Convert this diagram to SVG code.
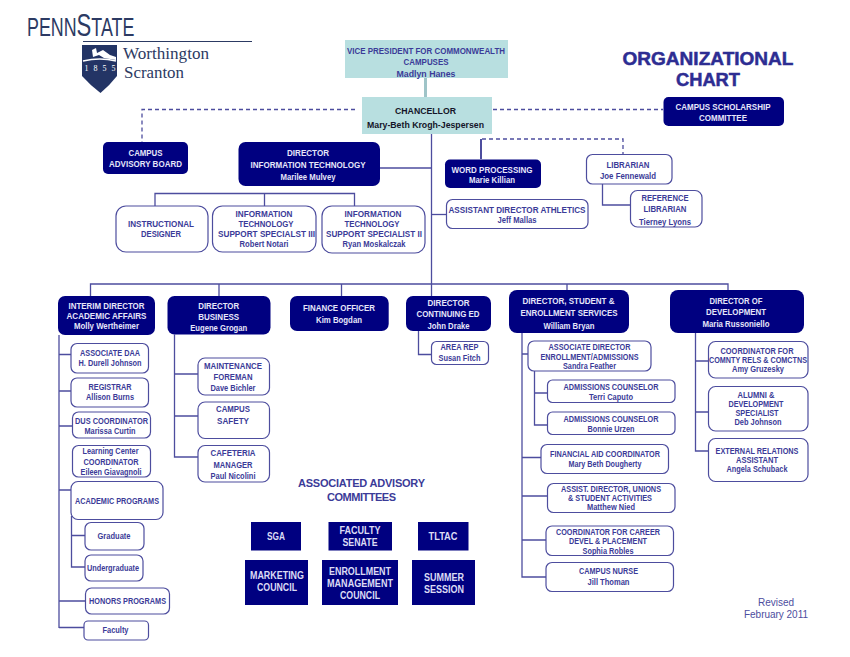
<svg xmlns="http://www.w3.org/2000/svg" width="850" height="657" viewBox="0 0 850 657">
<style>
text{font-family:"Liberation Sans",Arial,sans-serif;text-anchor:middle;font-weight:700;font-size:9.5px;fill:#3b3b98}
.n text{fill:#e6e6fa}
.n rect,.s rect{fill:#000080;stroke:none}
.w rect{fill:#fff;stroke:#4d4d9e;stroke-width:1.2}
.t rect{fill:#b8dfe0;stroke:none}
.t text{fill:#3b3b98}
.k text{fill:#141428}
.s text{fill:#dcdcf5;font-size:10px}
.m text{font-size:8.7px}
.c text{font-size:8.2px}
.l line,.l path{fill:none;stroke:#4d4d9e;stroke-width:1.3}
.l .d{stroke-dasharray:4 3}
.title{font-size:19px;font-weight:700;fill:#2d2d92;stroke:#2d2d92;stroke-width:.5}
.logo{font-family:"Liberation Serif",serif;font-weight:400;fill:#2c3a63;text-anchor:start}
.rev{font-weight:400;fill:#4d4d9e;font-size:10px}
</style>
<g id="logo">
<text class="logo" transform="translate(27 36) scale(.714 1)" style="font-family:'Liberation Sans',sans-serif;font-size:25px">PENN<tspan style="font-size:31px">S</tspan>TATE</text>
<line x1="83" y1="41.5" x2="252" y2="41.5" stroke="#2c3a63" stroke-width="1"/>
<path d="M82 45H117V76Q110 85 100.5 93Q90 85 82 76Z" fill="#233465"/>
<path d="M92 50L96 48L97 53L103 50L110 55L116 57V60L104 58L99 55L93 57Z" fill="#fff"/>
<path d="M83 61Q100 57 116 61" fill="none" stroke="#fff" stroke-width="1.5"/>
<text x="100" y="71" style="font-family:'Liberation Serif',serif;font-size:8px;font-weight:400;fill:#fff" textLength="31">1 8 5 5</text>
<text class="logo" x="123" y="59" style="font-size:16px" textLength="86" lengthAdjust="spacingAndGlyphs">Worthington</text>
<text class="logo" x="124" y="77.5" style="font-size:16px" textLength="60" lengthAdjust="spacingAndGlyphs">Scranton</text>
</g>
<g id="connectors" class="l">
<rect x="424" y="78" width="3" height="19" fill="#9fc4c8"/>
<path class="d" d="M355 109.5H142V142"/>
<path class="d" d="M493 109.5H663"/>
<path class="d" d="M482 139H623V154"/>
<path d="M481 139V159" style="stroke-width:2"/>
<path d="M431.5 130V284"/>
<path d="M380 168H432"/>
<path d="M155 206V193.5H354.5V206M264.5 193.5V206"/>
<path d="M432 214.5H446"/>
<path d="M602.5 184V205H630"/>
<path d="M90.5 296V284H728V290M219 284V296M341.5 284V296M431.5 284V296M567 284V290"/>
<path d="M59 335V628M59 354.5H71M59 391H71M59 426H72.5M59 490H71M59 601H85.5M59 627.5H84"/>
<path d="M71.5 516V567H85M71.5 535.5H85"/>
<path d="M174.5 334.5V457H198M174.5 374H198M174.5 416H198"/>
<path d="M418.5 331V354.5H431.5"/>
<path d="M522 333V577H546M522 354H528M522 457.5H541M522 496H547.5M522 540H546"/>
<path d="M534.5 371V425H547.5M534.5 393H547.5"/>
<path d="M695.5 333V451H708.5M695.5 361H708.5M695.5 412H708.5"/>
</g>
<g id="vp" class="t"><rect x="345" y="40" width="163" height="38"/>
<text x="426" y="54" textLength="158" lengthAdjust="spacingAndGlyphs">VICE PRESIDENT FOR COMMONWEALTH</text><text x="426" y="65" textLength="45" lengthAdjust="spacingAndGlyphs">CAMPUSES</text><text x="426" y="77" textLength="59" lengthAdjust="spacingAndGlyphs">Madlyn Hanes</text></g>
<g id="chancellor" class="t k"><rect x="362" y="97" width="130" height="37"/>
<text x="425.5" y="114" textLength="61" lengthAdjust="spacingAndGlyphs">CHANCELLOR</text><text x="425.5" y="127.5" textLength="117" lengthAdjust="spacingAndGlyphs">Mary-Beth Krogh-Jespersen</text></g>
<g id="title"><text class="title" x="708" y="65" textLength="171" lengthAdjust="spacingAndGlyphs">ORGANIZATIONAL</text><text class="title" x="708" y="86" textLength="64" lengthAdjust="spacingAndGlyphs">CHART</text></g>
<g id="scholarship" class="n"><rect x="663.5" y="97" width="120.5" height="29" rx="5"/>
<text x="723" y="109.5" textLength="95" lengthAdjust="spacingAndGlyphs">CAMPUS SCHOLARSHIP</text><text x="723" y="121" textLength="48" lengthAdjust="spacingAndGlyphs">COMMITTEE</text></g>
<g id="advisory-board" class="n"><rect x="103" y="142" width="85" height="32" rx="5"/>
<text x="145.5" y="156" textLength="34" lengthAdjust="spacingAndGlyphs">CAMPUS</text><text x="145.5" y="167" textLength="73" lengthAdjust="spacingAndGlyphs">ADVISORY BOARD</text></g>
<g id="dir-it" class="n"><rect x="238.5" y="142" width="141.5" height="44" rx="7"/>
<text x="308" y="156" textLength="42" lengthAdjust="spacingAndGlyphs">DIRECTOR</text><text x="308" y="167.5" textLength="115" lengthAdjust="spacingAndGlyphs">INFORMATION TECHNOLOGY</text><text x="308" y="180" textLength="55" lengthAdjust="spacingAndGlyphs">Marilee Mulvey</text></g>
<g id="instructional" class="w m"><rect x="116" y="206" width="92" height="46" rx="10"/>
<text x="161" y="227" textLength="66" lengthAdjust="spacingAndGlyphs">INSTRUCTIONAL</text><text x="161" y="237" textLength="40" lengthAdjust="spacingAndGlyphs">DESIGNER</text></g>
<g id="it3" class="w m"><rect x="212.5" y="206" width="103.5" height="46" rx="10"/>
<text x="264" y="217" textLength="57" lengthAdjust="spacingAndGlyphs">INFORMATION</text><text x="266" y="227" textLength="55" lengthAdjust="spacingAndGlyphs">TECHNOLOGY</text><text x="266.5" y="237" textLength="97" lengthAdjust="spacingAndGlyphs">SUPPORT SPECIALST III</text><text x="264" y="247" textLength="49" lengthAdjust="spacingAndGlyphs">Robert Notari</text></g>
<g id="it2" class="w m"><rect x="322" y="206" width="103" height="47" rx="10"/>
<text x="373" y="217" textLength="57" lengthAdjust="spacingAndGlyphs">INFORMATION</text><text x="372" y="227" textLength="55" lengthAdjust="spacingAndGlyphs">TECHNOLOGY</text><text x="374" y="237" textLength="96" lengthAdjust="spacingAndGlyphs">SUPPORT SPECIALIST II</text><text x="374" y="247" textLength="63" lengthAdjust="spacingAndGlyphs">Ryan Moskalczak</text></g>
<g id="word" class="n m"><rect x="445" y="159.5" width="96" height="28.5" rx="5"/>
<text x="492" y="172.5" textLength="81" lengthAdjust="spacingAndGlyphs">WORD PROCESSING</text><text x="492" y="183" textLength="46" lengthAdjust="spacingAndGlyphs">Marie Killian</text></g>
<g id="librarian" class="w"><rect x="586.5" y="154.5" width="85.5" height="29.5" rx="6"/>
<text x="628" y="168" textLength="43" lengthAdjust="spacingAndGlyphs">LIBRARIAN</text><text x="628" y="179" textLength="56" lengthAdjust="spacingAndGlyphs">Joe Fennewald</text></g>
<g id="ref-librarian" class="w"><rect x="630.5" y="190.5" width="71.5" height="36.5" rx="7"/>
<text x="665" y="201" textLength="47" lengthAdjust="spacingAndGlyphs">REFERENCE</text><text x="665" y="212" textLength="43" lengthAdjust="spacingAndGlyphs">LIBRARIAN</text><text x="665" y="224.5" textLength="52" lengthAdjust="spacingAndGlyphs">Tierney Lyons</text></g>
<g id="athletics" class="w m"><rect x="446.5" y="199.5" width="141.5" height="29" rx="6"/>
<text x="517" y="212.5" textLength="137" lengthAdjust="spacingAndGlyphs">ASSISTANT DIRECTOR ATHLETICS</text><text x="517" y="222.5" textLength="39" lengthAdjust="spacingAndGlyphs">Jeff Mallas</text></g>
<g id="academic" class="n m"><rect x="58" y="296" width="97" height="39" rx="7"/>
<text x="106.5" y="309" textLength="76" lengthAdjust="spacingAndGlyphs">INTERIM DIRECTOR</text><text x="106.5" y="319" textLength="80" lengthAdjust="spacingAndGlyphs">ACADEMIC  AFFAIRS</text><text x="106.5" y="329" textLength="65" lengthAdjust="spacingAndGlyphs">Molly Wertheimer</text></g>
<g id="business" class="n"><rect x="167.5" y="296" width="103" height="38.5" rx="7"/>
<text x="218.7" y="308.5" textLength="41" lengthAdjust="spacingAndGlyphs">DIRECTOR</text><text x="218.7" y="320" textLength="41" lengthAdjust="spacingAndGlyphs">BUSINESS</text><text x="218.7" y="331" textLength="57" lengthAdjust="spacingAndGlyphs">Eugene Grogan</text></g>
<g id="finance" class="n"><rect x="290" y="296" width="98.7" height="35" rx="7"/>
<text x="339" y="311" textLength="72" lengthAdjust="spacingAndGlyphs">FINANCE OFFICER</text><text x="339" y="323" textLength="46" lengthAdjust="spacingAndGlyphs">Kim Bogdan</text></g>
<g id="continuing" class="n"><rect x="406" y="296" width="85" height="35" rx="7"/>
<text x="448.5" y="306" textLength="42" lengthAdjust="spacingAndGlyphs">DIRECTOR</text><text x="448" y="317" textLength="63" lengthAdjust="spacingAndGlyphs">CONTINUING ED</text><text x="448.5" y="329" textLength="42" lengthAdjust="spacingAndGlyphs">John Drake</text></g>
<g id="student" class="n"><rect x="509" y="290" width="120" height="43" rx="8"/>
<text x="568.5" y="304" textLength="92" lengthAdjust="spacingAndGlyphs">DIRECTOR, STUDENT &amp;</text><text x="569" y="316" textLength="97" lengthAdjust="spacingAndGlyphs">ENROLLMENT SERVICES</text><text x="569" y="329" textLength="51" lengthAdjust="spacingAndGlyphs">William Bryan</text></g>
<g id="development" class="n"><rect x="670" y="290" width="134" height="43" rx="8"/>
<text x="736" y="304" textLength="53" lengthAdjust="spacingAndGlyphs">DIRECTOR OF</text><text x="736" y="315" textLength="60" lengthAdjust="spacingAndGlyphs">DEVELOPMENT</text><text x="736" y="327" textLength="67" lengthAdjust="spacingAndGlyphs">Maria Russoniello</text></g>
<g id="assoc-daa" class="w m"><rect x="71" y="343.5" width="77.5" height="29.5" rx="6"/>
<text x="110" y="356" textLength="60" lengthAdjust="spacingAndGlyphs">ASSOCIATE DAA</text><text x="110" y="366" textLength="63" lengthAdjust="spacingAndGlyphs">H. Durell Johnson</text></g>
<g id="registrar" class="w m"><rect x="71" y="378" width="77.5" height="29" rx="6"/>
<text x="110" y="390" textLength="43" lengthAdjust="spacingAndGlyphs">REGISTRAR</text><text x="110" y="400" textLength="48" lengthAdjust="spacingAndGlyphs">Allison Burns</text></g>
<g id="dus" class="w m"><rect x="72.5" y="412" width="78" height="26" rx="6"/>
<text x="111.5" y="423.5" textLength="73" lengthAdjust="spacingAndGlyphs">DUS COORDINATOR</text><text x="110" y="433.5" textLength="51" lengthAdjust="spacingAndGlyphs">Marissa Curtin</text></g>
<g id="learning" class="w m"><rect x="72.5" y="445.5" width="78" height="31.5" rx="6"/>
<text x="110.5" y="454" textLength="56" lengthAdjust="spacingAndGlyphs">Learning Center</text><text x="111" y="464.5" textLength="55" lengthAdjust="spacingAndGlyphs">COORDINATOR</text><text x="111" y="475" textLength="61" lengthAdjust="spacingAndGlyphs">Eileen Giavagnoli</text></g>
<g id="programs" class="w"><rect x="71" y="481.5" width="92" height="38" rx="7"/>
<text x="117" y="503.5" textLength="84" lengthAdjust="spacingAndGlyphs">ACADEMIC PROGRAMS</text></g>
<g id="graduate" class="w"><rect x="85" y="522.5" width="59" height="27.5" rx="6"/>
<text x="114" y="539" textLength="33" lengthAdjust="spacingAndGlyphs">Graduate</text></g>
<g id="undergraduate" class="w"><rect x="85" y="555" width="58" height="26" rx="6"/>
<text x="113" y="571" textLength="52" lengthAdjust="spacingAndGlyphs">Undergraduate</text></g>
<g id="honors" class="w"><rect x="85.5" y="588" width="84" height="26" rx="6"/>
<text x="127.5" y="603.5" textLength="77" lengthAdjust="spacingAndGlyphs">HONORS PROGRAMS</text></g>
<g id="faculty" class="w"><rect x="84" y="621" width="64.5" height="19" rx="4"/>
<text x="115.5" y="633" textLength="26" lengthAdjust="spacingAndGlyphs">Faculty</text></g>
<g id="maintenance" class="w"><rect x="198" y="358" width="71.5" height="37" rx="7"/>
<text x="233" y="369" textLength="58" lengthAdjust="spacingAndGlyphs">MAINTENANCE</text><text x="233" y="380" textLength="39" lengthAdjust="spacingAndGlyphs">FOREMAN</text><text x="233" y="391" textLength="45" lengthAdjust="spacingAndGlyphs">Dave Bichler</text></g>
<g id="safety" class="w"><rect x="198" y="402" width="71.5" height="36.5" rx="7"/>
<text x="233" y="412" textLength="34" lengthAdjust="spacingAndGlyphs">CAMPUS</text><text x="233" y="424" textLength="32" lengthAdjust="spacingAndGlyphs">SAFETY</text></g>
<g id="cafeteria" class="w"><rect x="198" y="445.5" width="71.5" height="36.5" rx="7"/>
<text x="233" y="456" textLength="45" lengthAdjust="spacingAndGlyphs">CAFETERIA</text><text x="233" y="468" textLength="39" lengthAdjust="spacingAndGlyphs">MANAGER</text><text x="233" y="479" textLength="45" lengthAdjust="spacingAndGlyphs">Paul Nicolini</text></g>
<g id="area-rep" class="w"><rect x="431.5" y="341.5" width="57" height="23" rx="5"/>
<text x="459.5" y="350" textLength="38" lengthAdjust="spacingAndGlyphs">AREA REP</text><text x="459.5" y="361" textLength="42" lengthAdjust="spacingAndGlyphs">Susan Fitch</text></g>
<g id="assoc-dir" class="w c"><rect x="528" y="341" width="123" height="30" rx="6"/>
<text x="589.5" y="350" textLength="82" lengthAdjust="spacingAndGlyphs">ASSOCIATE DIRECTOR</text><text x="589.5" y="359.5" textLength="98" lengthAdjust="spacingAndGlyphs">ENROLLMENT/ADMISSIONS</text><text x="589.5" y="369" textLength="53" lengthAdjust="spacingAndGlyphs">Sandra Feather</text></g>
<g id="adm1" class="w c"><rect x="547.5" y="380" width="127.5" height="22.5" rx="5"/>
<text x="611" y="390" textLength="95" lengthAdjust="spacingAndGlyphs">ADMISSIONS COUNSELOR</text><text x="611" y="399.5" textLength="44" lengthAdjust="spacingAndGlyphs">Terri Caputo</text></g>
<g id="adm2" class="w c"><rect x="547.5" y="412" width="127.5" height="22.5" rx="5"/>
<text x="611" y="422" textLength="95" lengthAdjust="spacingAndGlyphs">ADMISSIONS COUNSELOR</text><text x="611" y="431.5" textLength="47" lengthAdjust="spacingAndGlyphs">Bonnie Urzen</text></g>
<g id="finaid" class="w m"><rect x="541" y="444.5" width="127.5" height="29" rx="6"/>
<text x="605" y="457" textLength="110" lengthAdjust="spacingAndGlyphs">FINANCIAL AID COORDINATOR</text><text x="605" y="467" textLength="73" lengthAdjust="spacingAndGlyphs">Mary Beth Dougherty</text></g>
<g id="assist" class="w c"><rect x="547.5" y="483.5" width="127.5" height="29" rx="6"/>
<text x="611" y="492" textLength="100" lengthAdjust="spacingAndGlyphs">ASSIST. DIRECTOR, UNIONS</text><text x="610" y="501" textLength="84" lengthAdjust="spacingAndGlyphs">&amp; STUDENT ACTIVITIES</text><text x="611" y="510" textLength="48" lengthAdjust="spacingAndGlyphs">Matthew Nied</text></g>
<g id="career" class="w c"><rect x="546" y="526" width="127.5" height="29.5" rx="6"/>
<text x="608" y="534.5" textLength="104" lengthAdjust="spacingAndGlyphs">COORDINATOR FOR CAREER</text><text x="608" y="544" textLength="78" lengthAdjust="spacingAndGlyphs">DEVEL &amp; PLACEMENT</text><text x="608" y="553.5" textLength="51" lengthAdjust="spacingAndGlyphs">Sophia Robles</text></g>
<g id="nurse" class="w"><rect x="546" y="562.5" width="127.5" height="29" rx="6"/>
<text x="608.5" y="574" textLength="59" lengthAdjust="spacingAndGlyphs">CAMPUS NURSE</text><text x="608.5" y="585" textLength="42" lengthAdjust="spacingAndGlyphs">Jill Thoman</text></g>
<g id="comnty" class="w c"><rect x="708.5" y="341.5" width="99.5" height="36.5" rx="7"/>
<text x="757" y="354" textLength="73" lengthAdjust="spacingAndGlyphs">COORDINATOR FOR</text><text x="758" y="363" textLength="98" lengthAdjust="spacingAndGlyphs">COMNTY RELS &amp; COMCTNS</text><text x="758" y="372" textLength="52" lengthAdjust="spacingAndGlyphs">Amy Gruzesky</text></g>
<g id="alumni" class="w c"><rect x="708.5" y="386.5" width="99.5" height="44.5" rx="7"/>
<text x="756" y="398" textLength="37" lengthAdjust="spacingAndGlyphs">ALUMNI &amp;</text><text x="756" y="407" textLength="55" lengthAdjust="spacingAndGlyphs">DEVELOPMENT</text><text x="757" y="416" textLength="43" lengthAdjust="spacingAndGlyphs">SPECIALIST</text><text x="758" y="425" textLength="47" lengthAdjust="spacingAndGlyphs">Deb Johnson</text></g>
<g id="external" class="w c"><rect x="708.5" y="438.5" width="99.5" height="43" rx="7"/>
<text x="757" y="453.5" textLength="83" lengthAdjust="spacingAndGlyphs">EXTERNAL RELATIONS</text><text x="757" y="462.5" textLength="42" lengthAdjust="spacingAndGlyphs">ASSISTANT</text><text x="757" y="471.5" textLength="61" lengthAdjust="spacingAndGlyphs">Angela Schuback</text></g>
<g id="advisory-heading"><text x="361.5" y="487" style="font-size:11px" textLength="127">ASSOCIATED  ADVISORY</text><text x="361.5" y="501" style="font-size:11px" textLength="69">COMMITTEES</text></g>
<g id="sga" class="s"><rect x="251" y="522" width="50" height="28.5"/><text x="276" y="540" textLength="18" lengthAdjust="spacingAndGlyphs">SGA</text></g>
<g id="senate" class="s"><rect x="328.5" y="522" width="63.5" height="28.5"/><text x="360" y="534" textLength="41" lengthAdjust="spacingAndGlyphs">FACULTY</text><text x="360" y="546" textLength="35" lengthAdjust="spacingAndGlyphs">SENATE</text></g>
<g id="tltac" class="s"><rect x="418" y="522" width="50.5" height="28.5"/><text x="443" y="540" textLength="29" lengthAdjust="spacingAndGlyphs">TLTAC</text></g>
<g id="marketing" class="s"><rect x="245" y="560" width="63" height="45"/><text x="277" y="579" textLength="54" lengthAdjust="spacingAndGlyphs">MARKETING</text><text x="277" y="591" textLength="40" lengthAdjust="spacingAndGlyphs">COUNCIL</text></g>
<g id="enrollment" class="s"><rect x="322" y="560" width="76" height="45"/><text x="360" y="574.5" textLength="62" lengthAdjust="spacingAndGlyphs">ENROLLMENT</text><text x="360" y="586.5" textLength="66" lengthAdjust="spacingAndGlyphs">MANAGEMENT</text><text x="360" y="598.5" textLength="40" lengthAdjust="spacingAndGlyphs">COUNCIL</text></g>
<g id="summer" class="s"><rect x="412" y="560" width="63" height="45"/><text x="444" y="581" textLength="40" lengthAdjust="spacingAndGlyphs">SUMMER</text><text x="444" y="593" textLength="40" lengthAdjust="spacingAndGlyphs">SESSION</text></g>
<g id="revised"><text class="rev" x="776" y="606" textLength="36">Revised</text><text class="rev" x="776" y="617.5" textLength="64">February 2011</text></g>
</svg>
